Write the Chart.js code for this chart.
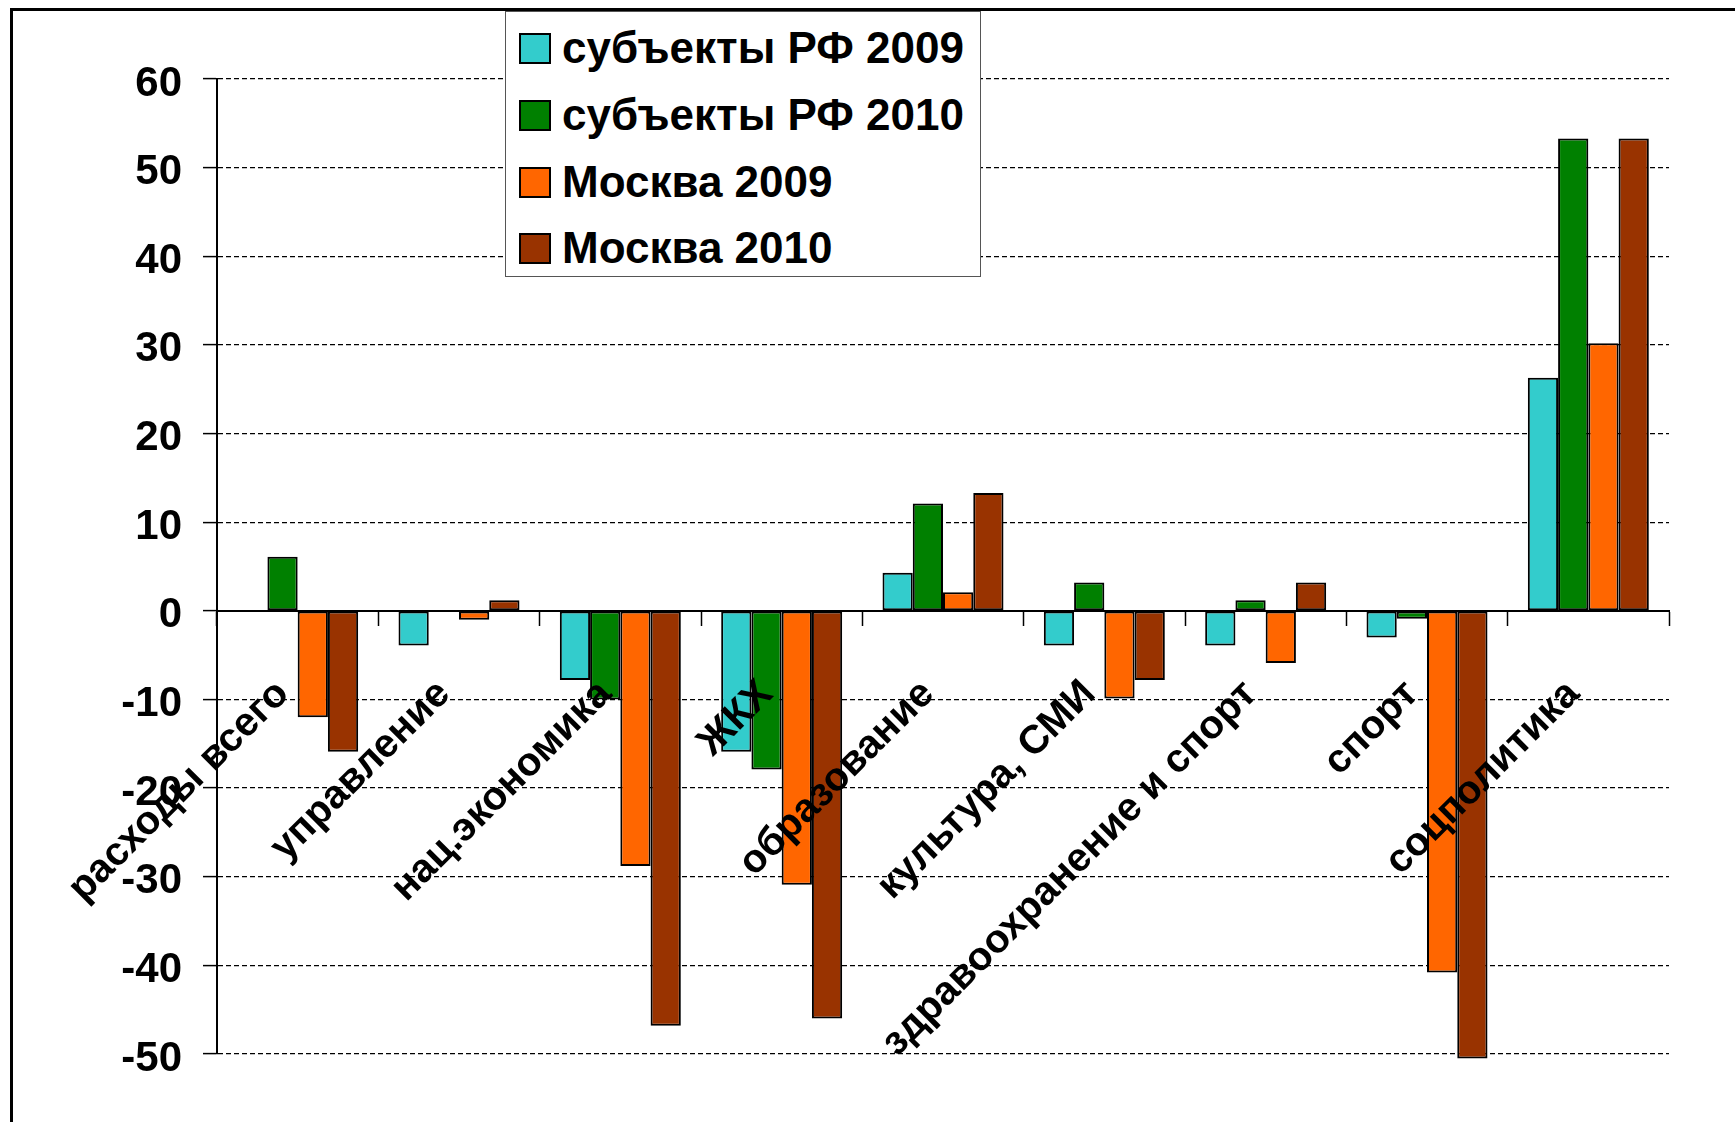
<!DOCTYPE html>
<html>
<head>
<meta charset="utf-8">
<script src="https://cdn.jsdelivr.net/npm/chart.js@4/dist/chart.umd.min.js"></script>
<style>
  html, body { margin: 0; padding: 0; background: #fff; }
  #wrap { position: relative; width: 1735px; height: 1122px; overflow: hidden; background: #fff; }
  #c { position: absolute; left: 0; top: 0; }
  #frame { position: absolute; left: 10px; top: 8px; width: 1800px; height: 1200px;
           border-left: 3px solid #000; border-top: 3px solid #000; pointer-events: none; }
  #legend { position: absolute; left: 505px; top: 11px; width: 476px; height: 266px;
            background: #fff; border: 1.5px solid #555; box-sizing: border-box; }
  .item { position: absolute; left: 13px; height: 44px; display: flex; align-items: center;
          font: bold 44px "Liberation Sans", Arial, sans-serif; color: #000; white-space: nowrap; }
  .sw { width: 28px; height: 27px; border: 2px solid #000; margin-right: 11px; flex: none; }
</style>
</head>
<body>
<div id="wrap">
  <canvas id="c" width="1735" height="1122"></canvas>
  <div id="frame"></div>
  <div id="legend"></div>
</div>
<script>
const categories = ["расходы всего", "управление", "нац.экономика", "ЖКХ", "образование",
                    "культура, СМИ", "здравоохранение и спорт", "спорт", "соцполитика"];
const seriesNames = ["субъекты РФ 2009", "субъекты РФ 2010", "Москва 2009", "Москва 2010"];
const subjects2009 = [0, -3.9, -7.8, -15.9, 4.3, -3.9, -3.9, -3.0, 26.3];
const subjects2010 = [6.1, 0, -10.0, -17.9, 12.1, 3.2, 1.2, -0.9, 53.3];
const moscow2009   = [-12.0, -1.0, -28.8, -30.9, 2.1, -9.9, -5.9, -40.8, 30.2];
const moscow2010   = [-15.9, 1.2, -46.8, -46.0, 13.3, -7.8, 3.2, -50.5, 53.3];
const yTicks = [60, 50, 40, 30, 20, 10, 0, -10, -20, -30, -40, -50];
const colors = ["#33CCCC", "#008000", "#FF6600", "#993300"];

const seriesValues = [subjects2009, subjects2010, moscow2009, moscow2010];

// HTML legend built from series arrays
const legendEl = document.getElementById('legend');
const rowTops = [14, 81, 148, 214];
seriesNames.forEach((name, i) => {
  const d = document.createElement('div');
  d.className = 'item';
  d.style.top = rowTops[i] + 'px';
  d.innerHTML = '<div class="sw" style="background:' + colors[i] + '"></div><span>' + name + '</span>';
  legendEl.appendChild(d);
});

const FONT = "'Liberation Sans', Arial, sans-serif";

new Chart(document.getElementById('c'), {
  type: 'bar',
  data: {
    labels: categories,
    datasets: seriesNames.map((name, i) => ({
      label: name,
      data: seriesValues[i],
      backgroundColor: colors[i],
      borderColor: '#000',
      borderWidth: 2,
      borderSkipped: false,
      barPercentage: 1.0,
      categoryPercentage: 0.75,
      clip: false
    }))
  },
  options: {
    responsive: false,
    animation: false,
    devicePixelRatio: 1,
    layout: { padding: { left: 0, top: 79, right: 66, bottom: 68 } },
    plugins: { legend: { display: false }, tooltip: { enabled: false } },
    scales: {
      x: {
        position: { y: 0 },
        offset: true,
        grid: { display: true, drawOnChartArea: false, drawTicks: true, tickLength: 14,
                color: '#000', tickColor: '#000', tickWidth: 1.5, offset: true, z: 1 },
        border: { display: true, color: '#000', width: 2, z: 1 },
        ticks: {
          z: 1,
          autoSkip: false, maxRotation: 45, minRotation: 45, padding: 46, labelOffset: -15,
          color: '#000', font: { family: FONT, size: 40, weight: 'bold' }
        }
      },
      y: {
        min: -50, max: 60,
        afterFit(scale) { scale.width = 217; },
        afterBuildTicks(scale) { scale.ticks = yTicks.map(v => ({ value: v })); },
        grid: { color: '#000', lineWidth: 1.2, tickLength: 14, tickColor: '#000', tickWidth: 1.5,
                tickBorderDash: [] },
        border: { display: true, color: '#000', width: 2, dash: [5, 3] },
        ticks: { padding: 21, labelOffset: 5, color: '#000',
                 font: { family: FONT, size: 42, weight: 'bold' } }
      }
    }
  }
});
</script>
</body>
</html>
